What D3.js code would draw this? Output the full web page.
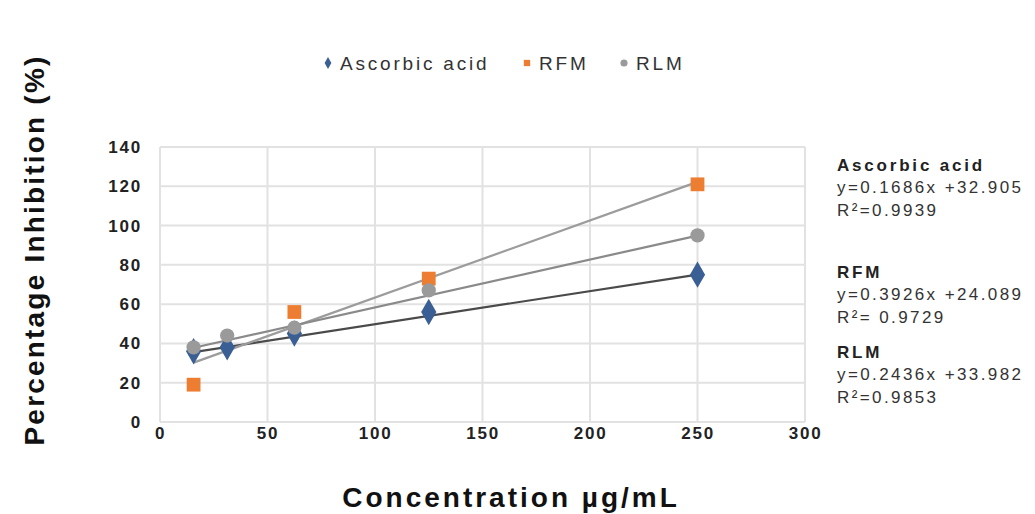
<!DOCTYPE html>
<html>
<head>
<meta charset="utf-8">
<script src="https://cdn.jsdelivr.net/npm/d3@7"></script>
<style>
  body { margin: 0; background: #fff; }
  svg text { font-family: "Liberation Sans", Arial, sans-serif; }
</style>
</head>
<body>
<div id="chart"></div>
<script>
// data
const concentrations = [15.625, 31.25, 62.5, 125, 250];
const seriesNames = ['Ascorbic acid', 'RFM', 'RLM'];
const ascorbicValues = [36, 38, 45, 56, 75];
const rfmValues = [19, null, 56, 73, 121];
const rlmValues = [38, 44, 48, 67, 95];
const slopes = [0.1686, 0.3926, 0.2436];
const intercepts = [32.905, 24.089, 33.982];
const rSquared = ['0.9939', ' 0.9729', '0.9853'];
const xTicks = [0, 50, 100, 150, 200, 250, 300];
const yTicks = [0, 20, 40, 60, 80, 100, 120, 140];

const width = 1035, height = 514;
const margin = { left: 160, right: 230, top: 147, bottom: 92 };

const svg = d3.select('#chart').append('svg')
  .attr('width', width)
  .attr('height', height);

const x = d3.scaleLinear().domain([0, 300]).range([margin.left, width - margin.right]);
const y = d3.scaleLinear().domain([0, 140]).range([height - margin.bottom, margin.top]);

// gridlines
svg.append('g').selectAll('line.h')
  .data(yTicks).enter().append('line')
  .attr('x1', x(0)).attr('x2', x(300))
  .attr('y1', d => y(d)).attr('y2', d => y(d))
  .attr('stroke', '#e2e2e2').attr('stroke-width', 2);

svg.append('g').selectAll('line.v')
  .data(xTicks).enter().append('line')
  .attr('y1', y(0)).attr('y2', y(140))
  .attr('x1', d => x(d)).attr('x2', d => x(d))
  .attr('stroke', '#e2e2e2').attr('stroke-width', 2);

// axes labels (no domain lines)
const xAxis = svg.append('g')
  .attr('transform', `translate(0,${y(0) + 2})`)
  .call(d3.axisBottom(x).tickValues(xTicks).tickSize(0).tickPadding(3));
const yAxis = svg.append('g')
  .attr('transform', `translate(${x(0) - 16},0)`)
  .call(d3.axisLeft(y).tickValues(yTicks).tickSize(0).tickPadding(2));

[xAxis, yAxis].forEach(a => {
  a.select('.domain').remove();
  a.selectAll('text')
    .style('font-family', '"Liberation Sans", Arial, sans-serif')
    .attr('font-size', 17).attr('font-weight', 'bold').attr('fill', '#222')
    .attr('letter-spacing', 1.8);
});

// trend lines
const trendColors = ['#4a4a4a', '#9c9c9c', '#8a8a8a'];
const allSeries = [ascorbicValues, rfmValues, rlmValues];
const line = d3.line().x(d => x(d[0])).y(d => y(d[1]));
const xMin = d3.min(concentrations), xMax = d3.max(concentrations);

seriesNames.forEach((name, i) => {
  const pts = [xMin, xMax].map(c => [c, slopes[i] * c + intercepts[i]]);
  svg.append('path')
    .attr('d', line(pts))
    .attr('fill', 'none')
    .attr('stroke', trendColors[i])
    .attr('stroke-width', 2.2);
});

// markers
const markerColors = ['#3a5f95', '#ed7d31', '#9a9a9a'];
const symbolTypes = [d3.symbolDiamond, d3.symbolSquare, d3.symbolCircle];
const symbolSizes = [200, 190, 160];

seriesNames.forEach((name, i) => {
  const pts = concentrations.map((c, j) => [c, allSeries[i][j]]).filter(p => p[1] != null);
  svg.append('g').selectAll('path')
    .data(pts).enter().append('path')
    .attr('transform', d => `translate(${x(d[0])},${y(d[1])})`)
    .attr('d', d3.symbol().type(symbolTypes[i]).size(symbolSizes[i]))
    .attr('fill', markerColors[i]);
});

// legend
const legend = svg.append('g').attr('transform', 'translate(328,63)');
const legendX = [0, 199, 296];
seriesNames.forEach((name, i) => {
  const g = legend.append('g').attr('transform', `translate(${legendX[i]},0)`);
  g.append('path')
    .attr('d', d3.symbol().type(symbolTypes[i]).size(40))
    .attr('fill', markerColors[i]);
  g.append('text')
    .attr('x', 12).attr('y', 7)
    .attr('font-size', 19).attr('fill', '#333')
    .attr('letter-spacing', 2.8)
    .text(name);
});

// equations
const eqY = [165, 272, 352];
seriesNames.forEach((name, i) => {
  const g = svg.append('g').attr('transform', `translate(837,${eqY[i]})`);
  g.append('text').attr('y', 6).attr('font-size', 17).attr('font-weight', 'bold').attr('fill', '#222')
    .attr('letter-spacing', 2.8).text(name);
  g.append('text').attr('y', 28).attr('font-size', 17).attr('fill', '#333')
    .attr('letter-spacing', 2.4)
    .text(`y=${slopes[i].toFixed(4)}x +${intercepts[i].toFixed(3)}`);
  g.append('text').attr('y', 51).attr('font-size', 17).attr('fill', '#333')
    .attr('letter-spacing', 2.4)
    .text(`R²=${rSquared[i]}`);
});

// axis titles
svg.append('text')
  .attr('transform', 'translate(44,250) rotate(-90)')
  .attr('text-anchor', 'middle')
  .attr('font-size', 28).attr('font-weight', 'bold').attr('fill', '#111')
  .attr('letter-spacing', 2.2)
  .text('Percentage Inhibition (%)');

svg.append('text')
  .attr('x', 511).attr('y', 507)
  .attr('text-anchor', 'middle')
  .attr('font-size', 28).attr('font-weight', 'bold').attr('fill', '#111')
  .attr('letter-spacing', 3)
  .text('Concentration  µg/mL');
</script>
</body>
</html>
